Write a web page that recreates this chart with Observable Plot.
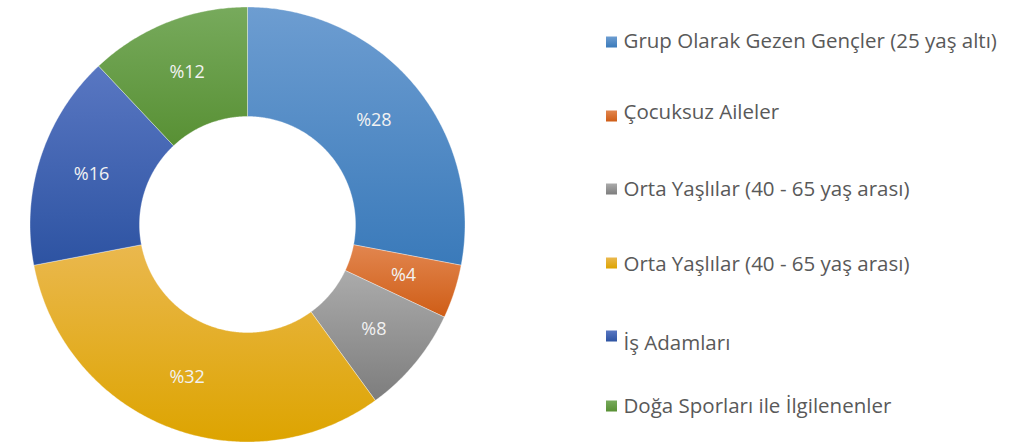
<!DOCTYPE html>
<html>
<head>
<meta charset="utf-8">
<script src="https://cdn.jsdelivr.net/npm/d3@7"></script>
<script src="https://cdn.jsdelivr.net/npm/@observablehq/plot@0.6"></script>
<style>
  html, body { margin: 0; padding: 0; background: #fff; }
  #chart { width: 1024px; height: 444px; }
</style>
</head>
<body>
<div id="chart"></div>
<script>
// ---- data ----
const categories = [
  "Grup Olarak Gezen Gençler (25 yaş altı)",
  "Çocuksuz Aileler",
  "Orta Yaşlılar (40 - 65 yaş arası)",
  "Orta Yaşlılar (40 - 65 yaş arası)",
  "İş Adamları",
  "Doğa Sporları ile İlgilenenler"
];
const values = [28, 4, 8, 32, 16, 12];
const valueLabels = ["%28", "%4", "%8", "%32", "%16", "%12"];

// ---- styles ----
const topColors    = ["#6d9dd1", "#e2864f", "#ababab", "#eab84e", "#5977c2", "#77aa5c"];
const bottomColors = ["#3a7aba", "#cf5d16", "#7d7d7d", "#dda400", "#2d53a2", "#589034"];

// ---- layout (pixels) ----
const W = 1024, H = 444;
const CX = 247, CY = 224, R_OUT = 217.5, R_IN = 108, R_LABEL = 164;
const legendSwatchY = [42, 116, 189, 263, 336, 406];
const legendTextY = [41, 112, 189, 264, 343, 406];
const legendX = 606, swatch = 11, legendTextX = 623;

// data coords: origin at donut centre, y up
const px = x => x - CX;
const py = y => CY - y;

const total = d3.sum(values);
let acc = 0;
const slices = values.map((v, i) => {
  const a0 = acc / total * 2 * Math.PI;
  acc += v;
  const a1 = acc / total * 2 * Math.PI;
  return {i, v, a0, a1, mid: (a0 + a1) / 2};
});

const polyPoints = [];
for (const s of slices) {
  const n = Math.max(4, Math.ceil((s.a1 - s.a0) / (Math.PI / 360)));
  const pts = [];
  for (let k = 0; k <= n; k++) {
    const a = s.a0 + (s.a1 - s.a0) * k / n;
    pts.push([R_OUT * Math.sin(a), R_OUT * Math.cos(a)]);
  }
  for (let k = n; k >= 0; k--) {
    const a = s.a0 + (s.a1 - s.a0) * k / n;
    pts.push([R_IN * Math.sin(a), R_IN * Math.cos(a)]);
  }
  pts.push(pts[0]);
  for (const [x, y] of pts) polyPoints.push({slice: s.i, x, y, fill: `url(#grad${s.i})`});
}

const labelData = slices.map(s => ({
  x: R_LABEL * Math.sin(s.mid),
  y: R_LABEL * Math.cos(s.mid),
  text: valueLabels[s.i]
}));

const legendRects = categories.map((c, i) => ({
  x1: px(legendX), x2: px(legendX + swatch),
  y1: py(legendSwatchY[i] - swatch / 2), y2: py(legendSwatchY[i] + swatch / 2),
  fill: `url(#grad${i})`
}));
const legendTexts = categories.map((c, i) => ({x: px(legendTextX), y: py(legendTextY[i]), text: c}));

const FONT = "'Open Sans', Lato, sans-serif";

const chart = Plot.plot({
  width: W, height: H,
  margin: 0,
  x: {domain: [px(0), px(W)], range: [0, W], axis: null},
  y: {domain: [py(0), py(H)], range: [0, H], axis: null},
  color: {type: "identity"},
  style: {background: "#fff", fontFamily: FONT},
  marks: [
    Plot.line(polyPoints, {x: "x", y: "y", z: "slice", fill: "fill", stroke: "#ffffff", strokeWidth: 0.6, strokeOpacity: 0.6, curve: "linear"}),
    Plot.text(labelData, {x: "x", y: "y", text: "text", fill: "#f2f2f2", fontSize: 18, fontFamily: FONT}),
    Plot.rect(legendRects, {x1: "x1", x2: "x2", y1: "y1", y2: "y2", fill: "fill"}),
    Plot.text(legendTexts, {x: "x", y: "y", text: "text", textAnchor: "start", fill: "#595959", fontSize: 20.5, fontFamily: FONT})
  ]
});

// gradient defs
const ns = "http://www.w3.org/2000/svg";
const defs = document.createElementNS(ns, "defs");
topColors.forEach((c, i) => {
  const g = document.createElementNS(ns, "linearGradient");
  g.setAttribute("id", `grad${i}`);
  g.setAttribute("x1", "0"); g.setAttribute("y1", "0");
  g.setAttribute("x2", "0"); g.setAttribute("y2", "1");
  const s0 = document.createElementNS(ns, "stop");
  s0.setAttribute("offset", "0"); s0.setAttribute("stop-color", c);
  const s1 = document.createElementNS(ns, "stop");
  s1.setAttribute("offset", "1"); s1.setAttribute("stop-color", bottomColors[i]);
  g.appendChild(s0); g.appendChild(s1);
  defs.appendChild(g);
});
chart.insertBefore(defs, chart.firstChild);
document.getElementById("chart").appendChild(chart);
</script>
</body>
</html>
